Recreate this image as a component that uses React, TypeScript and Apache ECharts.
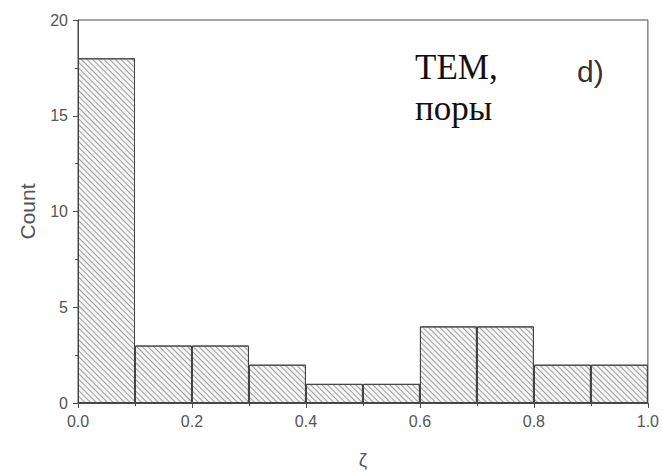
import React, { useEffect, useRef } from "react";
import * as echarts from "echarts";

// Histogram of ζ (bin width 0.1) for pores measured by TEM
const binLabels = ["0.0-0.1", "0.1-0.2", "0.2-0.3", "0.3-0.4", "0.4-0.5", "0.5-0.6", "0.6-0.7", "0.7-0.8", "0.8-0.9", "0.9-1.0"];
const counts = [18, 3, 3, 2, 1, 1, 4, 4, 2, 2];
const xTickStep = 0.2;
const yTickStep = 5;
const yMax = 20;
const xAxisTitle = "ζ";
const yAxisTitle = "Count";
const noteLines = ["TEM,", "поры"];
const panelTag = "d)";

const axisColor = "#4a4a4a";
const labelColor = "#555";

export default function App() {
  const ref = useRef<HTMLDivElement>(null);

  useEffect(() => {
    if (!ref.current) return;
    const chart = echarts.init(ref.current, undefined, { renderer: "svg" });
    chart.setOption({
      animation: false,
      backgroundColor: "#fff",
      grid: {
        left: 78,
        right: 14,
        top: 20,
        bottom: 65,
        show: true,
        borderColor: axisColor,
        borderWidth: 1,
        backgroundColor: "transparent",
      },
      xAxis: [
        {
          type: "category",
          data: binLabels,
          show: false,
          boundaryGap: true,
        },
        {
          type: "value",
          min: 0,
          max: 1,
          interval: xTickStep,
          position: "bottom",
          name: xAxisTitle,
          nameLocation: "middle",
          nameGap: 47,
          nameTextStyle: { fontFamily: "Liberation Sans", fontSize: 19, color: labelColor },
          axisLine: { show: true, lineStyle: { color: axisColor, width: 1 } },
          axisTick: { show: true, inside: false, length: 5, lineStyle: { color: axisColor } },
          minorTick: { show: true, splitNumber: 2, length: 3, lineStyle: { color: axisColor } },
          splitLine: { show: false },
          axisLabel: {
            fontFamily: "Liberation Sans",
            fontSize: 16,
            color: labelColor,
            margin: 10,
            formatter: (v: number) => v.toFixed(1),
          },
        },
      ],
      yAxis: {
        type: "value",
        min: 0,
        max: yMax,
        interval: yTickStep,
        name: yAxisTitle,
        nameLocation: "middle",
        nameGap: 40,
        nameTextStyle: { fontFamily: "Liberation Sans", fontSize: 21, color: labelColor },
        axisLine: { show: true, lineStyle: { color: axisColor, width: 1 } },
        axisTick: { show: true, inside: false, length: 5, lineStyle: { color: axisColor } },
        minorTick: { show: true, splitNumber: 2, length: 3, lineStyle: { color: axisColor } },
        splitLine: { show: false },
        axisLabel: {
          fontFamily: "Liberation Sans",
          fontSize: 16,
          color: labelColor,
          margin: 10,
        },
      },
      series: [
        {
          type: "bar",
          xAxisIndex: 0,
          data: counts,
          barCategoryGap: "0%",
          itemStyle: {
            color: "#f6f6f6",
            borderColor: "#444",
            borderWidth: 1,
            decal: {
              symbol: "rect",
              symbolSize: 1,
              dashArrayX: [1, 0],
              dashArrayY: [0.7, 2.6],
              rotation: Math.PI / 4,
              color: "rgba(120,120,120,0.7)",
            },
          },
        },
      ],
      graphic: [
        {
          type: "text",
          left: 415,
          top: 50,
          style: {
            text: noteLines[0],
            font: "35px 'Liberation Serif'",
            fill: "#111",
          },
        },
        {
          type: "text",
          left: 415,
          top: 91,
          style: {
            text: noteLines[1],
            font: "35px 'Liberation Serif'",
            fill: "#111",
          },
        },
        {
          type: "text",
          left: 577,
          top: 56,
          style: {
            text: panelTag,
            font: "30px 'Liberation Sans'",
            fill: "#333",
          },
        },
      ],
    });
    return () => chart.dispose();
  }, []);

  return <div ref={ref} style={{ width: 662, height: 474, position: "absolute", left: 0, top: 0 }} />;
}
